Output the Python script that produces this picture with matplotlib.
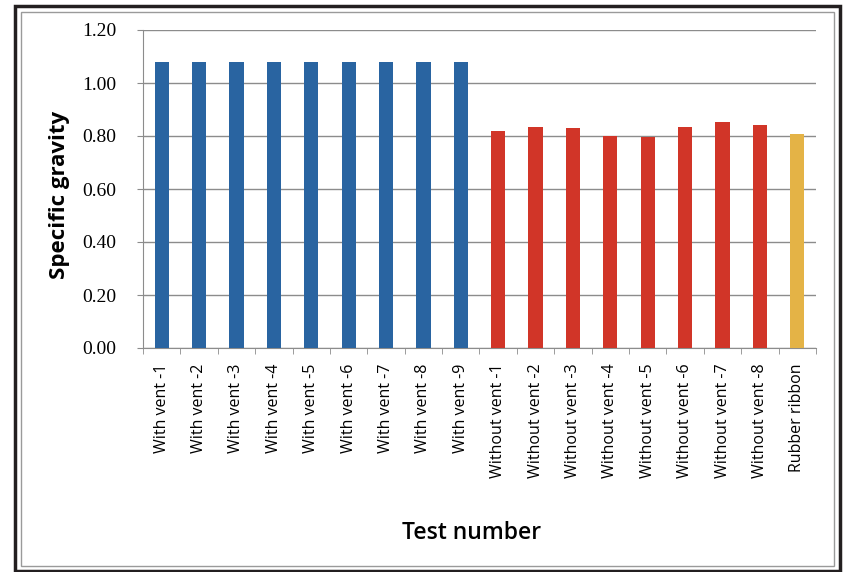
import numpy as np
import matplotlib.pyplot as plt
from matplotlib.patches import Rectangle

# data
labels = ['With vent -1', 'With vent -2', 'With vent -3', 'With vent -4', 'With vent -5',
          'With vent -6', 'With vent -7', 'With vent -8', 'With vent -9',
          'Without vent -1', 'Without vent -2', 'Without vent -3', 'Without vent -4',
          'Without vent -5', 'Without vent -6', 'Without vent -7', 'Without vent -8',
          'Rubber ribbon']
with_vent = [1.08, 1.08, 1.08, 1.08, 1.08, 1.08, 1.08, 1.08, 1.08]
without_vent = [0.818, 0.834, 0.829, 0.801, 0.797, 0.834, 0.851, 0.841]
rubber = [0.808]

values = with_vent + without_vent + rubber
colors = ['#2964a1'] * len(with_vent) + ['#d13528'] * len(without_vent) + ['#e4b346'] * len(rubber)

fig = plt.figure(figsize=(8.45, 5.72), dpi=100)

# frame around the chart
fig.patches.append(Rectangle((15/845, 1-571/572), 825/845, 565/572, transform=fig.transFigure,
                             fill=False, edgecolor='#231f20', linewidth=2.5))
fig.patches.append(Rectangle((21/845, 1-566/572), 813/845, 554/572, transform=fig.transFigure,
                             fill=False, edgecolor='#9a9a9a', linewidth=1.0))

ax = fig.add_axes([143/845, 1-348/572, 673/845, 318/572])
x = np.arange(len(values))
ax.bar(x, values, width=0.38, color=colors, zorder=3)

ax.set_xlim(-0.5, len(values) - 0.5)
ax.set_ylim(0, 1.2)
ax.set_yticks(np.arange(0, 1.21, 0.2))
ax.set_yticklabels(['%.2f' % v for v in np.arange(0, 1.21, 0.2)],
                   family='Liberation Serif', fontsize=14)
ax.yaxis.grid(True, color='#8c8c8c', linewidth=1.0, zorder=0)
ax.tick_params(axis='y', length=4, color='#8c8c8c', pad=15)

ax.set_xticks(x)
ax.set_xticklabels(labels, rotation=90, fontsize=11.5, family='Open Sans')
ax.tick_params(axis='x', length=0, pad=11)
ax.set_xticks(np.arange(-0.5, len(values), 1), minor=True)
ax.tick_params(axis='x', which='minor', length=4, color='#8c8c8c')

for s in ['top', 'right']:
    ax.spines[s].set_visible(False)
ax.spines['left'].set_color('#8c8c8c')
ax.spines['bottom'].set_color('#8c8c8c')

fig.text(60/845, 1-195/572, 'Specific gravity', rotation=90, ha='center', va='center',
         fontsize=16, fontweight='bold', family='Open Sans')
fig.text(472/845, 1-533/572, 'Test number', ha='center', va='center',
         fontsize=16.5, fontweight='semibold', family='Open Sans')

fig.savefig('out.png', dpi=100)
